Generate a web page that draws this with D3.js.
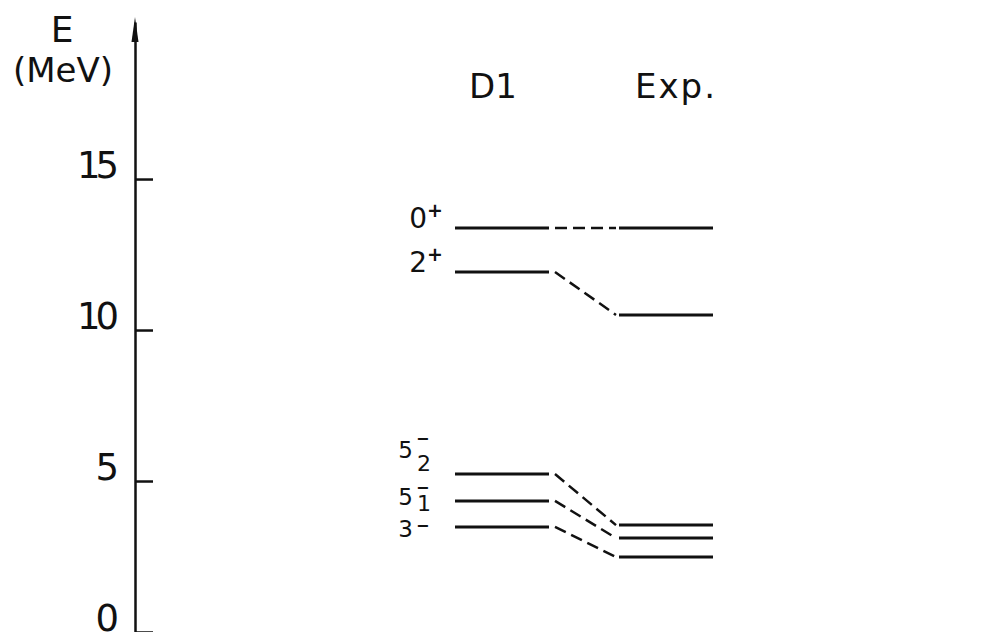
<!DOCTYPE html>
<html>
<head>
<meta charset="utf-8">
<script src="https://cdn.jsdelivr.net/npm/d3@7"></script>
<style>
body { margin: 0; background: #fff; }
text { font-family: "DejaVu Sans", sans-serif; fill: #111; }
</style>
</head>
<body>
<div id="chart"></div>
<script>
'use strict';

// spectrum: D1 calculation vs experiment
var columns = ['D1', 'Exp.'];
var levelSpin = ['0', '2', '5', '5', '3'];
var levelParity = ['+', '+', '\u2212', '\u2212', '\u2212'];
var levelIndex = ['', '', '2', '1', ''];
var d1Energy = [13.38, 11.92, 5.23, 4.34, 3.48];
var expEnergy = [13.38, 10.50, 3.54, 3.11, 2.48];
var tickValues = [0, 5, 10, 15];

drawSpectrum();

function drawSpectrum() {
    var width = 998;
    var height = 632;
    var axisX = 135;
    var halfWidth = 47;

    // hand placed label offsets (lower labels are crowded)
    var labelShift = [0, 0, -16, 4, 10];
    var superShift = [-11, -11, -14, -12, -6];
    var subShift = [0, 0, 13, 6, 0];

    var svg = d3.select('#chart')
        .append('svg')
        .attr('width', width)
        .attr('height', height);

    var y = d3.scaleLinear()
        .domain([0, 20.2])
        .range([632, 22]);

    var x = d3.scalePoint()
        .domain(columns)
        .range([502, 666]);

    // energy axis
    var axis = d3.axisLeft(y)
        .tickValues(tickValues)
        .tickSizeInner(-18)
        .tickSizeOuter(0)
        .tickPadding(21)
        .tickFormat(d3.format('d'));

    var gAxis = svg.append('g')
        .attr('transform', 'translate(' + axisX + ',0)')
        .call(axis)
        .attr('font-size', null)
        .attr('font-family', null);

    gAxis.select('.domain')
        .attr('stroke', '#111')
        .attr('stroke-width', 2.5);
    gAxis.selectAll('.tick line')
        .attr('stroke', '#111')
        .attr('stroke-width', 2.5);
    gAxis.selectAll('.tick text')
        .attr('dy', '-0.04em')
        .style('font-size', '37px')
        .style('letter-spacing', '-5px');

    // arrow head
    svg.append('path')
        .attr('d', 'M' + axisX + ',17 L' + (axisX + 3.5) + ',42 L' + (axisX - 3.5) + ',42 Z')
        .attr('fill', '#111');

    svg.append('text')
        .attr('x', 62)
        .attr('y', 42)
        .attr('text-anchor', 'middle')
        .style('font-size', '36px')
        .text('E');

    svg.append('text')
        .attr('x', 63)
        .attr('y', 82)
        .attr('text-anchor', 'middle')
        .style('font-size', '34px')
        .text('(MeV)');

    // column headers
    svg.selectAll('.header')
        .data(columns)
        .enter()
        .append('text')
        .attr('class', 'header')
        .attr('x', function(d, i) { return x(d) + (i === 0 ? -9 : 10); })
        .attr('y', 98)
        .attr('text-anchor', 'middle')
        .style('font-size', '34px')
        .style('letter-spacing', function(d, i) { return i === 0 ? '0px' : '2px'; })
        .text(function(d) { return d; });

    var levels = d1Energy.map(function(e, i) {
        return { d1: e, exp: expEnergy[i], i: i };
    });

    // level lines
    columns.forEach(function(col, c) {
        svg.selectAll('.lvl' + c)
            .data(levels)
            .enter()
            .append('line')
            .attr('class', 'lvl' + c)
            .attr('x1', x(col) - halfWidth)
            .attr('x2', x(col) + halfWidth)
            .attr('y1', function(d) { return y(c === 0 ? d.d1 : d.exp); })
            .attr('y2', function(d) { return y(c === 0 ? d.d1 : d.exp); })
            .attr('stroke', '#111')
            .attr('stroke-width', 3);
    });

    // dashed connectors
    svg.selectAll('.link')
        .data(levels)
        .enter()
        .append('line')
        .attr('class', 'link')
        .attr('x1', x('D1') + halfWidth + 6)
        .attr('y1', function(d) { return y(d.d1); })
        .attr('x2', x('Exp.') - halfWidth - 3)
        .attr('y2', function(d) { return y(d.exp); })
        .attr('stroke', '#111')
        .attr('stroke-width', 2.5)
        .attr('stroke-dasharray', '12,6');

    // spin-parity labels, one text each: spin, parity above, index below
    var labelRight = x('D1') - halfWidth - 28;
    var lab = svg.selectAll('.label')
        .data(levels)
        .enter()
        .append('text')
        .attr('class', 'label')
        .attr('transform', function(d) {
            var dx = levelParity[d.i] === '+' ? 0 : -14;
            return 'translate(' + (labelRight + dx) + ',' + (y(d.d1) + labelShift[d.i]) + ')';
        });

    lab.append('tspan')
        .attr('x', 0)
        .attr('y', 0)
        .attr('text-anchor', 'end')
        .style('font-size', function(d) { return levelParity[d.i] === '+' ? '28px' : '23px'; })
        .text(function(d) { return levelSpin[d.i]; });

    lab.append('tspan')
        .attr('x', function(d) { return levelParity[d.i] === '+' ? 0 : 3; })
        .attr('y', function(d) { return superShift[d.i]; })
        .attr('text-anchor', 'start')
        .style('font-size', function(d) { return levelParity[d.i] === '+' ? '19px' : '16px'; })
        .style('font-weight', 'bold')
        .text(function(d) { return levelParity[d.i]; });

    lab.filter(function(d) { return levelIndex[d.i] !== ''; })
        .append('tspan')
        .attr('x', 4)
        .attr('y', function(d) { return subShift[d.i]; })
        .attr('text-anchor', 'start')
        .style('font-size', '22px')
        .text(function(d) { return levelIndex[d.i]; });
}
</script>
</body>
</html>
